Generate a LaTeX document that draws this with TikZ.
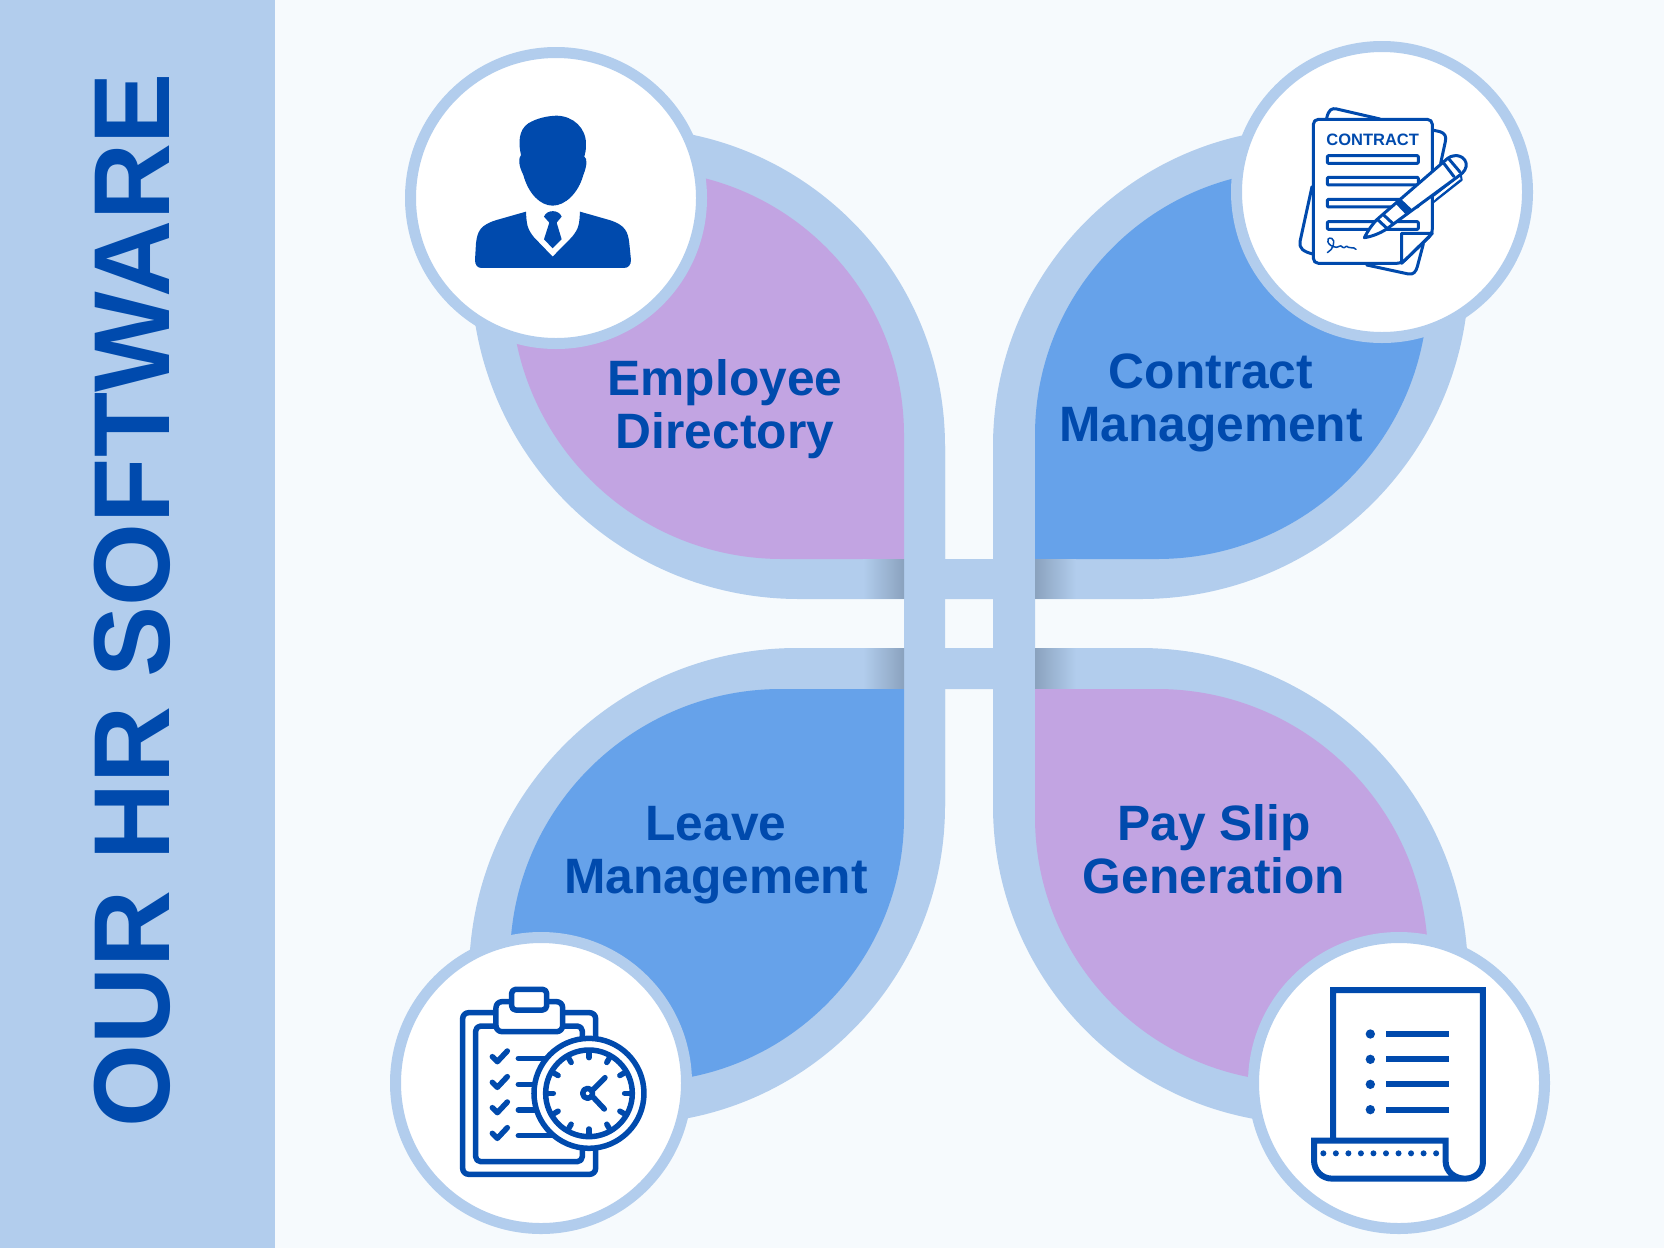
\documentclass[tikz,border=0pt]{standalone}
\usepackage{fontspec}
\setmainfont{Liberation Sans}
\definecolor{paper}{HTML}{F6FAFD}
\definecolor{band}{HTML}{B2CDED}
\definecolor{lilac}{HTML}{C2A4E2}
\definecolor{sky}{HTML}{66A2EA}
\definecolor{navy}{HTML}{004AAD}
\definecolor{shadow}{HTML}{8AA2BE}
\tikzset{
	label/.style={text=navy,font=\fontsize{49.7}{53}\selectfont\bfseries,align=center,inner sep=0},
	ring/.style={draw=band,fill=white,line width=11pt},
	zoomed/.style={x=.3333pt,y=-.3333pt},
	ink/.style={draw=navy,line width=#1,line join=round,line cap=round},
	ink/.default=5.5pt
}
\begin{document}
\begin{tikzpicture}[x=1pt,y=-1pt]
	\useasboundingbox (0,0) rectangle (1664,1248);
	\fill[paper] (0,0) rectangle (1664,1248);
	\fill[band] (0,0) rectangle (275,1248);
	\path (556,198) coordinate (TL) (1382,192) coordinate (TR) (541,1083) coordinate (BL) (1399,1083) coordinate (BR);
	\fill[band] (627,128) arc (-90:0:318) -- (945,599) -- (799,599) arc (90:180:328) -- cycle;
	\fill[band] (1311,128) arc (-90:-180:318) -- (993,599) -- (1141,599) arc (90:0:328) -- cycle;
	\fill[band] (627,1124) arc (90:0:318) -- (945,648) -- (797,648) arc (-90:-180:328) -- cycle;
	\fill[band] (1311,1124) arc (90:180:318) -- (993,648) -- (1140,648) arc (-90:0:328) -- cycle;
	\fill[band] (904,446) rectangle (945,806) (993,446) rectangle (1035,806);
	\fill[band] (945,559) rectangle (993,599) (945,648) rectangle (993,689);
	\fill[lilac] (639,170) arc (-90:0:265) -- (904,559) -- (782,559) arc (90:180:271) -- cycle;
	\fill[sky] (1300,170) arc (-90:-180:265) -- (1035,559) -- (1157,559) arc (90:0:271) -- cycle;
	\fill[sky] (639,1082) arc (90:0:265) -- (904,689) -- (781,689) arc (-90:-180:271) -- cycle;
	\fill[lilac] (1300,1082) arc (90:180:265) -- (1035,689) -- (1157,689) arc (-90:0:271) -- cycle;
	\foreach \y/\h in {559.5/598.5, 648.5/688.5}{
		\shade[left color=band,right color=shadow] (863,\y) rectangle (904,\h);
		\shade[left color=shadow,right color=band] (1035,\y) rectangle (1076,\h);
	}
	\foreach \c in {TL,TR,BL,BR}{
		\draw[ring] (\c) circle (145.5);
	}
	\node[text=navy,rotate=90,xscale=.987,inner sep=0,font=\fontsize{108}{108}\selectfont\bfseries] (title) at (132.5,600) {OUR HR SOFTWARE};
	\node[label] (directory) at (725,409.5) {Employee\\Directory};
	\node[label] (contract) at (1211,403) {Contract\\Management};
	\node[label] (leave) at (716,855) {Leave\\Management};
	\node[label] (payslip) at (1214,849) {Pay Slip\\Generation};
	\begin{scope}[shift={(400,40)},zoomed]
		\fill[navy] (363,345) .. controls (355,310) and (355,270) .. (385,250) .. controls (410,235) and (440,228) .. (470,227) .. controls (520,228) and (560,265) .. (558,315) .. controls (558,330) and (556,340) .. (553,350) .. controls (562,355) and (562,375) .. (550,405) .. controls (535,460) and (495,497) .. (458,497) .. controls (420,497) and (385,460) .. (370,405) .. controls (355,375) and (355,355) .. (363,345) -- cycle;
		\fill[navy] (378,515) -- (290,540) .. controls (240,555) and (232,575) .. (228,610) -- (225,660) .. controls (225,675) and (232,684) .. (245,684) -- (672,684) .. controls (685,684) and (693,675) .. (693,660) -- (688,610) .. controls (684,575) and (676,555) .. (628,540) -- (540,515) .. controls (538,550) and (538,565) .. (515,592) -- (458,650) -- (402,592) .. controls (380,565) and (380,550) .. (378,515) -- cycle;
		\fill[navy] (432,530) .. controls (440,508) and (477,508) .. (485,530) -- (470,548) -- (485,598) -- (458,625) -- (432,598) -- (448,548) -- cycle;
	\end{scope}
	\begin{scope}[shift={(1230,40)},zoomed]
		\draw[ink=3pt] (450,237) -- (320,207) .. controls (305,203) and (295,210) .. (290,235);
		\draw[ink=3pt] (607,270) -- (630,275) .. controls (645,280) and (650,290) .. (646,305) -- (632,370);
		\draw[ink=3pt] (246,440) -- (210,605) .. controls (207,625) and (220,635) .. (248,642);
		\draw[ink=3pt] (410,675) -- (535,702) .. controls (550,705) and (558,695) .. (562,680) -- (580,612);
		\filldraw[ink=3pt,fill=white,rounded corners=5pt] (515,670) -- (250,670) -- (250,238) -- (607,238) -- (607,582) -- cycle;
		\draw[ink=3pt,fill=white] (515,670) -- (515,580) -- (607,580) -- cycle;
		\node[text=navy,inner sep=0,font=\fontsize{16.5}{18}\selectfont\bfseries] (stamp) at (428,300) {CONTRACT};
		\foreach \y in {347,412,478,545}{
			\draw[ink=3pt,rounded corners=1pt] (292,\y) rectangle (565,\y+23);
		}
		\draw[ink=1.5pt] (292,638) .. controls (310,630) and (318,600) .. (305,595) .. controls (285,590) and (290,620) .. (320,622) .. controls (330,622) and (330,612) .. (338,622) .. controls (345,628) and (348,612) .. (355,622) .. controls (362,628) and (368,618) .. (378,628);
		\draw[ink=1pt] (612,468) -- (684,412) (618,478) -- (690,420);
		\draw[ink=2pt] (606,490) -- (695,420) -- (692,402);
		\filldraw[ink=3pt,fill=white] (403,593) .. controls (415,570) and (430,548) .. (445,535) -- (645,362) .. controls (665,340) and (700,342) .. (708,368) .. controls (712,385) and (700,398) .. (690,405) -- (470,567) .. controls (450,580) and (425,590) .. (403,593) -- cycle;
		\fill[navy] (510,474) -- (548,510) -- (530,526) -- (494,488) -- cycle;
		\draw[ink=3pt] (442,538) -- (472,566) (460,524) -- (490,552);
		\draw[ink=3pt] (640,368) -- (672,410) (656,356) -- (690,396);
	\end{scope}
	\begin{scope}[shift={(385,930)},zoomed]
		\draw[ink,rounded corners=6pt] (333,248) -- (233,248) -- (233,733) -- (632,733) -- (632,660) (632,320) -- (632,248) -- (533,248);
		\draw[ink,rounded corners=5pt] (333,288) -- (272,288) -- (272,695) -- (592,695) -- (592,660) (592,320) -- (592,288) -- (533,288);
		\draw[ink,fill=white,rounded corners=6pt] (333,305) -- (333,215) -- (533,215) -- (533,305) -- cycle;
		\draw[ink,fill=white,rounded corners=4pt] (380,240) rectangle (485,178);
		\foreach \y in {380,457,533,610}{
			\draw[ink] (322,\y) -- (337,\y+15) -- (367,\y-17);
		}
		\foreach \y/\e in {385/490, 463/450, 540/450, 617/500}{
			\draw[ink] (400,\y) -- (\e,\y);
		}
		\draw[ink,fill=white] (612,490) circle (165);
		\draw[ink] (612,490) circle (130);
		\foreach \a in {0,30,...,330}{
			\draw[ink] (612,490)+(\a:107) -- +(\a:128);
		}
		\draw[ink] (608,490) circle (15);
		\draw[ink] (625,478) -- (660,443) (625,502) -- (658,537);
	\end{scope}
	\begin{scope}[shift={(1245,930)},zoomed]
		\draw[ink=6pt,line cap=butt,line join=miter] (264,632) -- (264,180) -- (714,180) -- (714,695) .. controls (714,725) and (690,746) .. (660,746) -- (262,746) .. controls (230,746) and (207,722) .. (207,690) -- (207,632) -- (602,632) -- (602,695) .. controls (602,725) and (630,746) .. (660,746);
		\foreach \x in {0,...,9}{
			\fill[navy] (235+37.6*\x,670) circle (9);
		}
		\foreach \y in {312,388,463,539}{
			\fill[navy] (376,\y) circle (14);
			\draw[ink=6pt,line cap=butt] (423,\y) -- (611,\y);
		}
	\end{scope}
\end{tikzpicture}
\end{document}
